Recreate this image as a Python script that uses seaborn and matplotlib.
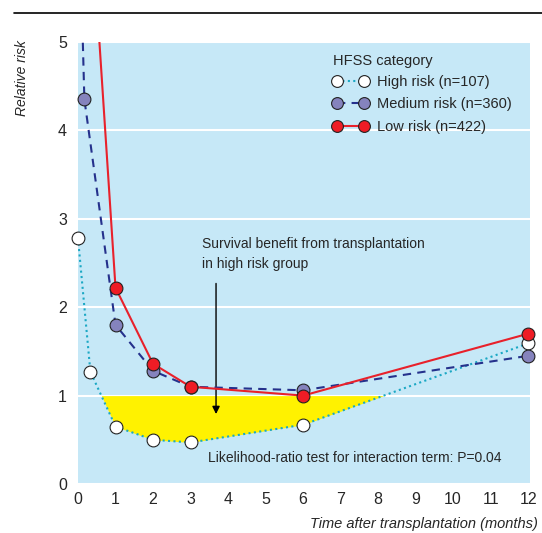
import numpy as np
import matplotlib
matplotlib.use("Agg")
import matplotlib.pyplot as plt
from matplotlib.lines import Line2D
import seaborn as sns

# values (relative risk by months after transplant)
months_high = [0, 0.33, 1, 2, 3, 6, 12]
rr_high = [2.78, 1.27, 0.65, 0.50, 0.47, 0.67, 1.59]
months_medium = [0, 0.17, 1, 2, 3, 6, 12]
rr_medium = [7.0, 4.35, 1.80, 1.28, 1.10, 1.06, 1.45]
months_low = [0, 1, 2, 3, 6, 12]
rr_low = [8.7, 2.22, 1.36, 1.10, 1.00, 1.70]

labels = ["High risk (n=107)", "Medium risk (n=360)", "Low risk (n=422)"]
x_ticks = list(range(0, 13))
y_ticks = list(range(0, 6))

bg = "#c6e8f7"
c_high, c_med, c_low = "#1ba8c4", "#25318c", "#e8212b"
face_high, face_med, face_low = "white", "#8583bd", "#ee1c25"

sns.set_style("white", {"axes.facecolor": bg})
plt.rcParams["font.family"] = ["Liberation Sans Narrow", "Liberation Sans", "DejaVu Sans"]

fig = plt.figure(figsize=(5.42, 5.33), dpi=100)
ax = fig.add_axes([78 / 542, 1 - 484 / 533, 452 / 542, 442 / 533])

# shaded survival benefit region
h = np.array(rr_high)
ax.fill_between(months_high, h, 1, where=h < 1, interpolate=True,
                color="#fff200", lw=0, zorder=1)

series = [
    (months_high, rr_high, c_high, (0, (1, 1.6)), face_high),
    (months_medium, rr_medium, c_med, (0, (4, 3)), face_med),
    (months_low, rr_low, c_low, "-", face_low),
]
handles = []
for i, (mx, ry, col, ls, face) in enumerate(series):
    sns.lineplot(x=mx, y=ry, ax=ax, color=col, linestyle=ls, lw=1.5,
                 sort=False, zorder=3 + i)
    keep = [k for k in range(len(ry)) if ry[k] <= 5]
    sns.scatterplot(x=[mx[k] for k in keep], y=[ry[k] for k in keep], ax=ax,
                    s=85, color=face, edgecolor="#222222", linewidth=0.8,
                    clip_on=False, zorder=6 + i)
    handles.append(Line2D([0], [0], color=col, linestyle=ls, lw=1.5, marker="o",
                          markersize=8.5, markerfacecolor=face,
                          markeredgecolor="#222222", markeredgewidth=0.8))

ax.set_xlim(0, 12.05)
ax.set_ylim(0, 5)
ax.set_xticks(x_ticks)
ax.set_yticks(y_ticks)
ax.grid(axis="y", color="white", lw=1.5, zorder=0)
ax.set_axisbelow(True)
ax.tick_params(axis="x", direction="in", length=5, width=1.2, color="white",
               labelsize=11.5, pad=6)
ax.tick_params(axis="y", length=0, labelsize=11.5, pad=8)
for s in ax.spines.values():
    s.set_visible(False)
ax.set_xlabel("")
ax.set_ylabel("")

leg = ax.legend(handles, labels, title="HFSS category", loc="upper right",
                bbox_to_anchor=(0.985, 1.0), frameon=False, numpoints=2,
                handlelength=2.4, handletextpad=0.6, labelspacing=0.6,
                fontsize=10.5, title_fontsize=10.5, borderaxespad=0.4)
leg._legend_box.align = "left"
leg._legend_box.sep = 5

ax.text(3.3, 2.6, "Survival benefit from transplantation\nin high risk group",
        fontsize=10, ha="left", va="center", linespacing=1.55)
ax.annotate("", xy=(3.68, 0.76), xytext=(3.68, 2.3),
            arrowprops=dict(arrowstyle="-|>", color="black", lw=1,
                            mutation_scale=11))
ax.text(11.3, 0.29, "Likelihood-ratio test for interaction term: P=0.04",
        fontsize=10, ha="right", va="center")

fig.text(22 / 542, 1 - 40 / 533, "Relative risk", rotation=90, style="italic",
         fontsize=10, ha="center", va="top")
fig.text(310 / 542, 1 - 524 / 533, "Time after transplantation (months)",
         style="italic", fontsize=10.5, ha="left", va="center")
fig.add_artist(Line2D([14 / 542, 1], [1 - 13 / 533, 1 - 13 / 533],
                      color="black", lw=1.2))

fig.savefig("out.png", dpi=100)
